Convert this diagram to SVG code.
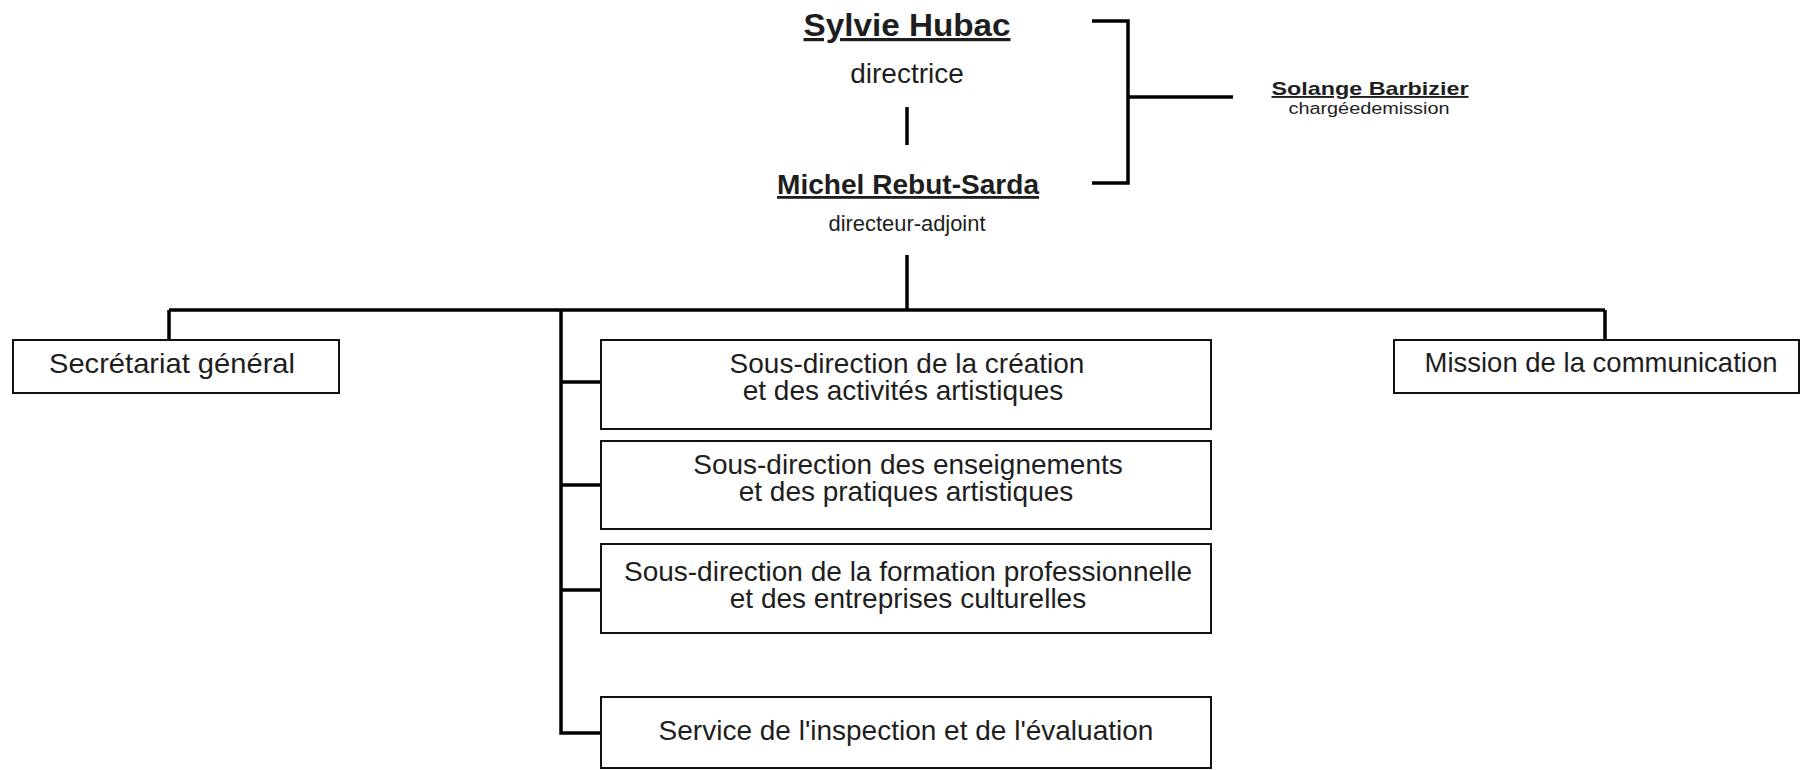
<svg xmlns="http://www.w3.org/2000/svg" width="1800" height="770" viewBox="0 0 1800 770">
<style>
text{font-family:"Liberation Sans",Arial,Helvetica,sans-serif;fill:#1e1e1e}
.box{fill:#fff;stroke:#111;stroke-width:2}
.lbl{font-size:28px;text-anchor:middle}
.name{font-weight:bold;text-anchor:middle;text-decoration:underline}
.role{text-anchor:middle}
.conn{fill:none;stroke:#000;stroke-width:3.5;stroke-linecap:butt;stroke-linejoin:miter}
</style>
<rect width="1800" height="770" fill="#fff"/>
<g id="connectors">
<path class="conn" d="M907 107V145"/>
<path class="conn" d="M1092 21H1128V183H1092M1128 97H1233"/>
<path class="conn" d="M907 255V310"/>
<path class="conn" stroke-width="4" d="M169 310H1605"/>
<path class="conn" d="M169 310V340M1605 310V340"/>
<path class="conn" d="M561 310V733H601M561 382H601M561 485H601M561 590H601"/>
</g>
<g id="sylvie-hubac">
<text class="name" x="907" y="36" font-size="32" textLength="207" lengthAdjust="spacingAndGlyphs">Sylvie Hubac</text>
<text class="role" x="907" y="83" font-size="28">directrice</text>
</g>
<g id="michel-rebut-sarda">
<text class="name" x="908" y="194" font-size="28" textLength="262" lengthAdjust="spacingAndGlyphs">Michel Rebut-Sarda</text>
<text class="role" x="907" y="231" font-size="22" textLength="157" lengthAdjust="spacingAndGlyphs">directeur-adjoint</text>
</g>
<g id="solange-barbizier">
<text class="name" x="1370" y="95" font-size="19" textLength="197" lengthAdjust="spacingAndGlyphs">Solange Barbizier</text>
<text class="role" x="1369" y="114" font-size="16" textLength="161" lengthAdjust="spacingAndGlyphs">chargéedemission</text>
</g>
<g id="secretariat-general">
<rect class="box" x="13" y="340" width="326" height="53"/>
<text class="lbl" x="172" y="373" textLength="246" lengthAdjust="spacingAndGlyphs">Secrétariat général</text>
</g>
<g id="mission-communication">
<rect class="box" x="1394" y="340" width="405" height="53"/>
<text class="lbl" x="1601" y="372" textLength="353" lengthAdjust="spacingAndGlyphs">Mission de la communication</text>
</g>
<g id="sd-creation">
<rect class="box" x="601" y="340" width="610" height="89"/>
<text class="lbl" x="907" y="373">Sous-direction de la création</text>
<text class="lbl" x="903" y="400">et des activités artistiques</text>
</g>
<g id="sd-enseignements">
<rect class="box" x="601" y="441" width="610" height="88"/>
<text class="lbl" x="908" y="474">Sous-direction des enseignements</text>
<text class="lbl" x="906" y="501">et des pratiques artistiques</text>
</g>
<g id="sd-formation">
<rect class="box" x="601" y="544" width="610" height="89"/>
<text class="lbl" x="908" y="581">Sous-direction de la formation professionnelle</text>
<text class="lbl" x="908" y="608">et des entreprises culturelles</text>
</g>
<g id="service-inspection">
<rect class="box" x="601" y="697" width="610" height="71"/>
<text class="lbl" x="906" y="740">Service de l'inspection et de l'évaluation</text>
</g>
</svg>
